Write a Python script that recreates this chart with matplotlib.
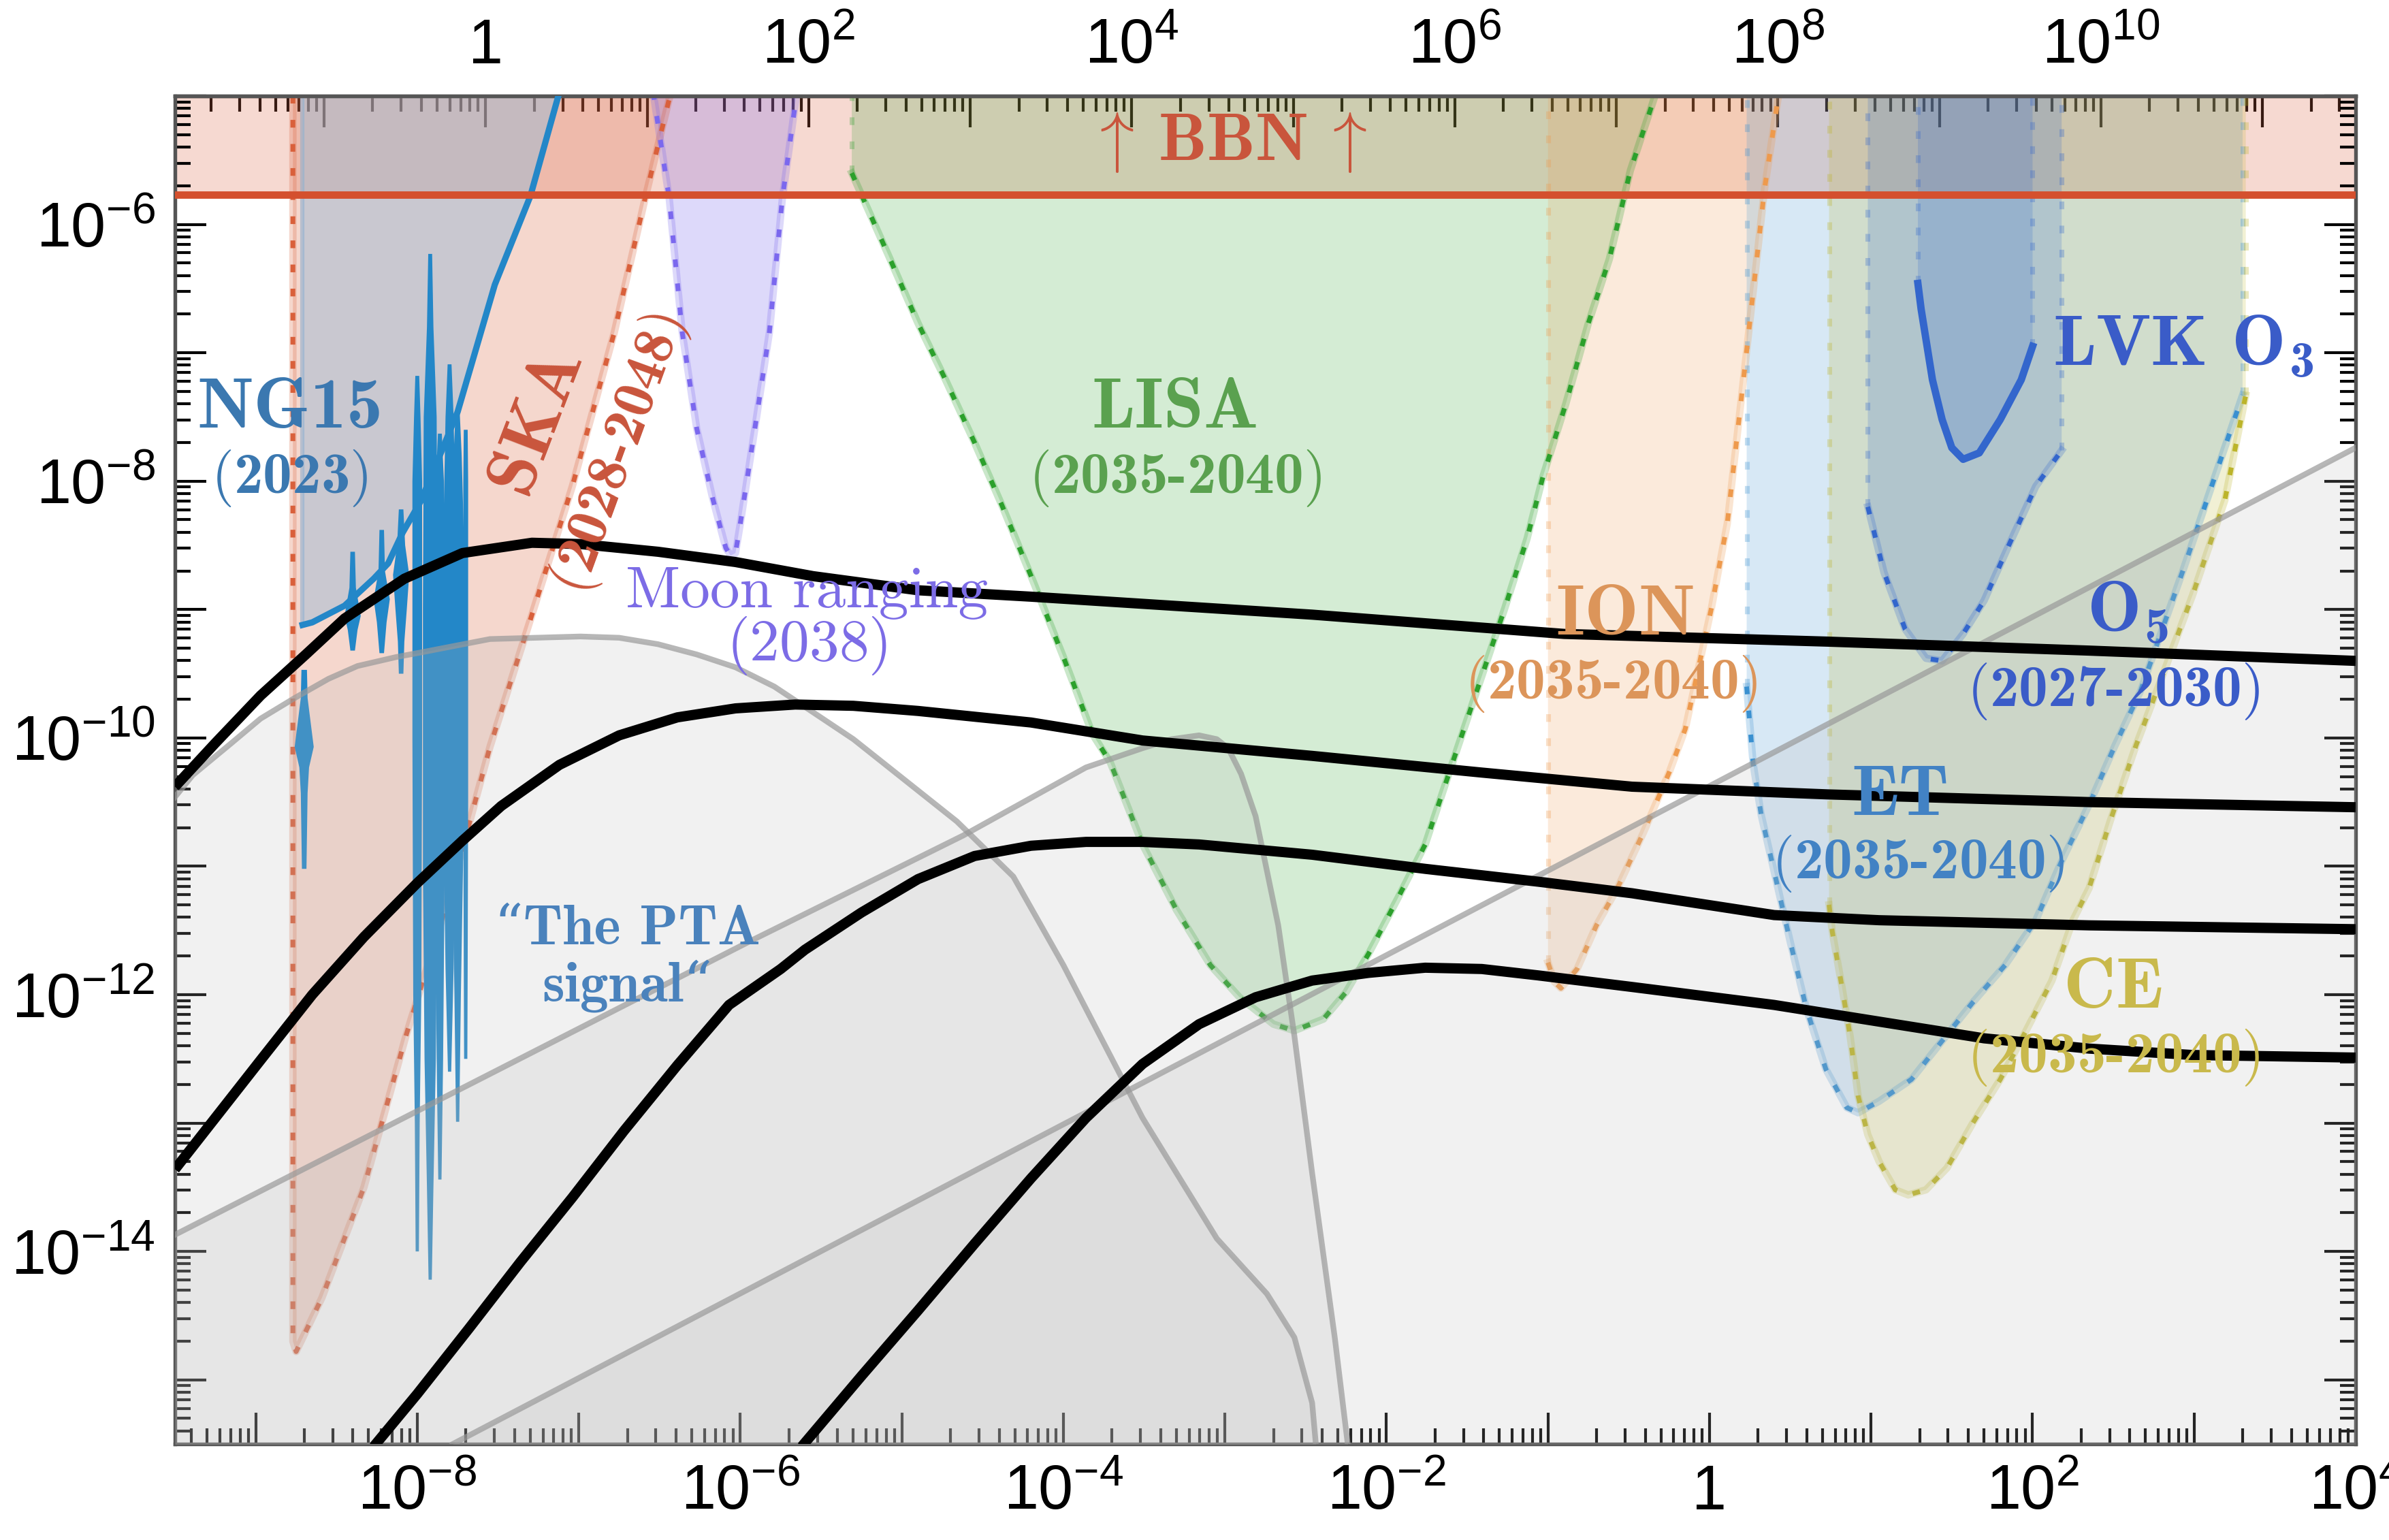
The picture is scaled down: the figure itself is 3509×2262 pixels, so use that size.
import numpy as np
import matplotlib
matplotlib.use('Agg')
import matplotlib.pyplot as plt
from matplotlib.ticker import LogLocator, FuncFormatter, NullFormatter

plt.rcParams['font.family'] = 'Liberation Sans'
plt.rcParams['mathtext.fontset'] = 'custom'
plt.rcParams['mathtext.rm'] = 'cmr10'
plt.rcParams['mathtext.bf'] = 'cmb10'

# all values are log10(f / Hz) and log10(h^2 Omega_GW)
TOP = -4.0           # above the frame, closes the shaded regions
F_PER_GEV = 2.65e-8  # top axis: temperature in GeV
bbn_lh = np.log10(1.7e-6)

# black model spectra
spec1_lf = [-9.5, -9.25, -8.97, -8.69, -8.45, -8.08, -7.72, -7.29, -6.99, -6.51, -6.03, -5.55, -4.90, -4.2, -2.46, -0.9, 0.73, 2.35, 4.0]
spec1_lh = [-10.38, -10.04, -9.67, -9.35, -9.07, -8.76, -8.56, -8.48, -8.49, -8.55, -8.63, -8.74, -8.85, -8.90, -9.04, -9.19, -9.25, -9.32, -9.40]
spec2_lf = [-9.5, -8.97, -8.65, -8.33, -8.0, -7.72, -7.48, -7.12, -6.75, -6.39, -6.03, -5.66, -5.30, -4.90, -4.2, -3.51, -2.46, -1.41, -0.48, 0.73, 2.35, 4.0]
spec2_lh = [-13.36, -12.51, -12.0, -11.55, -11.13, -10.80, -10.53, -10.21, -9.98, -9.84, -9.77, -9.74, -9.75, -9.79, -9.88, -10.02, -10.14, -10.27, -10.38, -10.44, -10.50, -10.54]
spec3_lf = [-8.27, -8.0, -7.68, -7.36, -7.04, -6.72, -6.39, -6.07, -5.75, -5.6, -5.25, -4.9, -4.55, -4.2, -3.86, -3.51, -3.16, -2.46, -1.76, -1.06, -0.48, 0.4, 1.05, 2.35, 4.0]
spec3_lh = [-15.52, -15.11, -14.60, -14.08, -13.58, -13.06, -12.55, -12.08, -11.80, -11.65, -11.36, -11.10, -10.92, -10.84, -10.81, -10.81, -10.83, -10.91, -11.02, -11.12, -11.21, -11.38, -11.42, -11.46, -11.49]
spec4_lf = [-5.62, -5.25, -4.90, -4.55, -4.20, -3.86, -3.51, -3.16, -2.81, -2.46, -2.11, -1.76, -1.41, -1.06, -0.48, 0.4, 1.05, 1.7, 2.35, 2.99, 4.0]
spec4_lh = [-15.52, -14.97, -14.46, -13.94, -13.43, -12.96, -12.54, -12.23, -12.02, -11.89, -11.83, -11.79, -11.80, -11.85, -11.94, -12.08, -12.21, -12.34, -12.42, -12.47, -12.49]

# grey background spectra
hump_lf = [-9.5, -9.39, -9.15, -8.97, -8.76, -8.55, -8.37, -8.13, -7.96, -7.55, -6.99, -6.75, -6.51, -6.27, -6.03, -5.79,
           -5.55, -5.30, -5.06, -4.90, -4.66, -4.31, -4.0, -3.51, -3.05, -2.74, -2.57, -2.46, -2.43]
hump_lh = [-10.46, -10.29, -10.04, -9.85, -9.69, -9.54, -9.44, -9.37, -9.33, -9.23, -9.21, -9.22, -9.27, -9.35, -9.45, -9.60,
           -9.80, -10.01, -10.25, -10.41, -10.65, -11.08, -11.77, -12.96, -13.90, -14.33, -14.67, -15.18, -15.6]
peak_lf = [-9.5, -5.95, -4.62, -3.86, -3.51, -3.33, -3.16, -3.05, -2.98, -2.90, -2.81, -2.67, -2.57, -2.46, -2.32, -2.23]
peak_lh = [-13.87, -11.59, -10.76, -10.23, -10.08, -10.01, -9.98, -10.01, -10.08, -10.28, -10.61, -11.46, -12.32, -13.39, -14.67, -15.6]
line_lf = [-7.78, 4.0]
line_lh = [-15.5, -7.74]

# NANOGrav 15 yr
ng_lf = [-8.71, -8.65, -8.45, -8.27, -8.18, -8.09, -7.98, -7.87, -7.75, -7.52, -7.30, -7.12]
ng_lh = [-9.12, -9.10, -8.97, -8.76, -8.64, -8.40, -8.16, -7.83, -7.46, -6.47, -5.78, -4.97]
viol_lf = [-8.70, -8.40, -8.22, -8.10, -8.00, -7.92, -7.86, -7.80, -7.75, -7.70]
viol_lh = [
    [-9.47, -9.69, -10.07, -10.23, -10.43, -11.02],
    [-8.55, -8.83, -9.05, -9.16, -9.32],
    [-8.38, -8.70, -8.92, -9.10, -9.34],
    [-8.22, -8.50, -8.73, -9.0, -9.25, -9.50],
    [-7.18, -7.5, -8.0, -10.0, -12.0, -13.0, -14.0],
    [-6.23, -6.8, -7.5, -9.0, -11.0, -12.5, -13.5, -14.22],
    [-7.63, -8.0, -9.0, -11.0, -12.5, -13.44],
    [-7.09, -7.5, -8.5, -10.5, -11.8, -12.6],
    [-7.44, -7.8, -8.5, -10.5, -12.0, -12.99],
    [-7.6, -8.0, -9.0, -10.5, -11.8, -12.5],
]
viol_hw = [
    [0.017, 0.021, 0.059, 0.030, 0.021, 0.014],
    [0.014, 0.02, 0.05, 0.03, 0.014],
    [0.014, 0.02, 0.05, 0.03, 0.014],
    [0.014, 0.025, 0.05, 0.035, 0.02, 0.014],
    [0.012, 0.02, 0.03, 0.03, 0.025, 0.015, 0.01],
    [0.012, 0.02, 0.04, 0.045, 0.045, 0.035, 0.02, 0.01],
    [0.012, 0.025, 0.03, 0.03, 0.02, 0.01],
    [0.012, 0.025, 0.04, 0.04, 0.025, 0.01],
    [0.012, 0.025, 0.04, 0.04, 0.02, 0.01],
    [0.012, 0.015, 0.015, 0.015, 0.012, 0.01],
]

# detector sensitivity curves
ska_lf = [-8.77, -8.77, -8.75, -8.59, -8.33, -8.07, -7.78, -7.55, -7.30, -7.04, -6.78, -6.59, -6.43]
ska_lh = [TOP, -14.70, -14.78, -14.36, -13.50, -12.32, -11.14, -10.07, -9.08, -8.04, -6.84, -5.80, -4.97]
moon_lf = [-6.54, -6.44, -6.36, -6.27, -6.17, -6.09, -6.06, -6.03, -6.0, -5.91, -5.82, -5.74, -5.65]
moon_lh = [-4.97, -5.80, -6.84, -7.59, -8.14, -8.52, -8.58, -8.56, -8.33, -7.59, -6.84, -5.80, -4.97]
lisa_lf = [-5.31, -5.08, -4.90, -4.73, -4.55, -4.38, -4.20, -4.0, -3.82, -3.71, -3.51, -3.30, -3.09, -2.91, -2.70, -2.57,
           -2.39, -2.25, -2.11, -1.93, -1.76, -1.59, -1.41, -1.27, -1.13, -1.03, -0.89, -0.75, -0.62, -0.49, -0.33]
lisa_lh = [-5.60, -6.25, -6.77, -7.21, -7.70, -8.19, -8.74, -9.37, -9.97, -10.19, -10.83, -11.34, -11.77, -12.02, -12.23, -12.28,
           -12.19, -11.98, -11.68, -11.25, -10.83, -10.19, -9.52, -9.0, -8.45, -7.96, -7.40, -6.77, -6.27, -5.58, -4.97]
ion_lf = [-1.0, -0.96, -0.92, -0.82, -0.70, -0.57, -0.41, -0.25, -0.15, 0.01, 0.11, 0.21, 0.34, 0.43]
ion_lh = [-11.75, -11.9, -11.95, -11.8, -11.46, -11.17, -10.74, -10.27, -9.93, -9.0, -8.33, -7.21, -5.73, -4.97]
et_lf = [0.23, 0.27, 0.32, 0.40, 0.50, 0.60, 0.72, 0.85, 0.92, 1.05, 1.25, 1.44, 1.63, 1.83, 2.02, 2.18, 2.35, 2.51, 2.67, 2.93, 3.13, 3.30]
et_lh = [-9.6, -10.2, -10.6, -11.04, -11.59, -12.11, -12.58, -12.88, -12.92, -12.83, -12.66, -12.36, -12.06, -11.77, -11.42, -10.96, -10.52, -10.06, -9.63, -8.70, -7.96, -7.33]
ce_lf = [0.74, 0.76, 0.82, 0.87, 0.92, 0.98, 1.05, 1.15, 1.23, 1.34, 1.47, 1.63, 1.80, 1.96, 2.12, 2.25, 2.35, 2.48, 2.64, 2.77, 2.99, 3.19, 3.32]
ce_lh = [-11.3, -11.51, -11.94, -12.32, -12.79, -13.09, -13.30, -13.52, -13.56, -13.52, -13.35, -13.0, -12.66, -12.28, -11.89, -11.42, -11.17, -10.65, -10.06, -9.63, -8.89, -8.15, -7.33]
o5_lf = [0.98, 1.08, 1.21, 1.34, 1.44, 1.57, 1.70, 1.86, 2.02, 2.18]
o5_lh = [-8.20, -8.71, -9.15, -9.38, -9.40, -9.19, -8.93, -8.48, -8.04, -7.76]
o3_lf = [1.29, 1.31, 1.38, 1.44, 1.50, 1.57, 1.67, 1.80, 1.93, 2.0]
o3_lh = [-6.46, -6.66, -7.21, -7.52, -7.74, -7.83, -7.78, -7.52, -7.21, -6.95]

# labels: text, log f, log h2Omega, colour, size, rotation, font
RED = '#c9553c'
NAME, YEAR = 25.5, 20.5
labels = [
    ('NG15', -8.79, -7.44, '#3b78b0', NAME, 0, 'cmb10'),
    ('$($2023$)$', -8.79, -7.98, '#3b78b0', YEAR, 0, 'cmb10'),
    ('SKA', -7.26, -7.52, RED, NAME, 69, 'cmb10'),
    ('$($2028-2048$)$', -6.75, -7.79, RED, YEAR, 70, 'cmb10'),
    ('Moon ranging', -5.59, -8.87, '#7c6ce6', 21, 0, 'cmr10'),
    ('$($2038$)$', -5.59, -9.28, '#7c6ce6', 21, 0, 'cmr10'),
    ('LISA', -3.31, -7.44, '#5aa14f', NAME, 0, 'cmb10'),
    ('$($2035-2040$)$', -3.31, -7.98, '#5aa14f', YEAR, 0, 'cmb10'),
    ('ION', -0.52, -9.05, '#dc955a', NAME, 0, 'cmb10'),
    ('$($2035-2040$)$', -0.61, -9.58, '#dc955a', YEAR, 0, 'cmb10'),
    ('ET', 1.18, -10.46, '#4282c4', NAME, 0, 'cmb10'),
    ('$($2035-2040$)$', 1.29, -10.98, '#4282c4', YEAR, 0, 'cmb10'),
    ('CE', 2.50, -11.96, '#c9b94c', NAME, 0, 'cmb10'),
    ('$($2035-2040$)$', 2.50, -12.49, '#c9b94c', YEAR, 0, 'cmb10'),
    (r'$\mathbf{O_5}$', 2.59, -9.02, '#3a5cc8', NAME, 0, 'cmb10'),
    ('$($2027-2030$)$', 2.50, -9.64, '#3a5cc8', YEAR, 0, 'cmb10'),
    (r'LVK $\mathbf{O_3}$', 2.93, -6.95, '#3a5cc8', NAME, 0, 'cmb10'),
    (r'$\uparrow\,$BBN$\,\uparrow$', -2.99, -5.36, RED, 24, 0, 'cmb10'),
]


def p(a):
    return 10.0 ** np.asarray(a, dtype=float)


fig = plt.figure(figsize=(3509 / 300, 2262 / 300), dpi=300)
ax = fig.add_axes([257 / 3509, 1 - 2121 / 2262, (3460 - 257) / 3509, (2121 - 141) / 2262])
ax.set_xscale('log')
ax.set_yscale('log')
ax.set_xlim(10 ** -9.5, 1e4)
ax.set_ylim(10 ** -15.5, 1e-5)

DOTS = (0, (1.6, 3.4))


def region(lf, lh, color, alpha=0.22, edges=True):
    x, y = p(lf), p(lh)
    ax.fill(np.r_[x[0], x, x[-1]], np.r_[p(TOP), y, p(TOP)], color=color, alpha=alpha, lw=0, zorder=1.5)
    ax.plot(x, y, color=color, alpha=0.25, lw=2.6, zorder=2.4)
    ax.plot(x, y, color=color, lw=1.7, ls=DOTS, zorder=2.5)
    if edges:
        for xe, ye in ((x[0], y[0]), (x[-1], y[-1])):
            ax.plot([xe, xe], [ye, p(TOP)], color=color, alpha=0.3, lw=1.7, ls=DOTS, zorder=2.4)


# BBN
ax.fill_between([10 ** -9.5, 1e4], p(bbn_lh), p(TOP), color='#dc6a48', alpha=0.25, lw=0, zorder=1)
ax.axhline(p(bbn_lh), color='#d4502e', lw=2.6, zorder=4.5)

region(ska_lf, ska_lh, '#d9603b', 0.25, edges=False)
region(moon_lf, moon_lh, '#7b68ee', 0.25)
region(lisa_lf, lisa_lh, '#2ca02c', 0.2)
region(ion_lf, ion_lh, '#ee9a4d', 0.2)
region(et_lf, et_lh, '#3a90d0', 0.2)
region(ce_lf, ce_lh, '#bcb42a', 0.2)
region(o5_lf, o5_lh, '#3366cc', 0.2)
# O3 region, bounded by the solid O3 curve
x3, y3 = p(o3_lf), p(o3_lh)
ax.fill(np.r_[x3[0], x3, x3[-1]], np.r_[p(TOP), y3, p(TOP)], color='#3366cc', alpha=0.2, lw=0, zorder=1.6)
for xe, ye in ((x3[0], y3[0]), (x3[-1], y3[-1])):
    ax.plot([xe, xe], [ye, p(TOP)], color='#3366cc', alpha=0.3, lw=1.7, ls=DOTS, zorder=2.4)
ax.plot(x3, y3, color='#3366cc', lw=2.6, zorder=4.2)

# NANOGrav region, sensitivity line and free-spectrum violins
xn, yn = p(ng_lf), p(ng_lh)
ax.fill(np.r_[xn[0], xn, xn[-1]], np.r_[p(TOP), yn, p(TOP)], color='#9ebbd3', alpha=0.5, lw=0, zorder=2)
ax.plot([xn[0], xn[0]], [yn[0], p(TOP)], color='#8fb0d0', alpha=0.6, lw=1.5, zorder=2.1)
for c, lv, hw in zip(viol_lf, viol_lh, viol_hw):
    lv, hw = np.asarray(lv), np.asarray(hw)
    vx = np.r_[p(c + hw), p(c - hw)[::-1]]
    vy = np.r_[p(lv), p(lv)[::-1]]
    ax.fill(vx, vy, color='#2387c8', lw=0, zorder=3)
ax.plot(xn, yn, color='#2387c8', lw=2.2, zorder=4.2)

# grey background spectra
for lf, lh in ((hump_lf, hump_lh), (peak_lf, peak_lh), (line_lf, line_lh)):
    ax.fill_between(p(lf), 1e-17, p(lh), color='#bababa', alpha=0.2, lw=0, zorder=3.5)
    ax.plot(p(lf), p(lh), color='#999999', alpha=0.7, lw=2.0, zorder=3.6)

for lf, lh in ((spec1_lf, spec1_lh), (spec2_lf, spec2_lh), (spec3_lf, spec3_lh), (spec4_lf, spec4_lh)):
    ax.plot(p(lf), p(lh), color='black', lw=3.6, solid_capstyle='butt', solid_joinstyle='round', zorder=5)

for txt, lx, ly, col, fs, rot, fam in labels:
    ax.text(p(lx), p(ly), txt, color=col, fontsize=fs, family=fam, rotation=rot,
            rotation_mode='anchor', ha='center', va='center', zorder=6)
ax.text(p(-6.70), p(-11.72), '\u201cThe PTA\nsignal\u201c', color='#4a82bc', fontsize=20,
        family=['cmb10', 'DejaVu Serif'], ha='center', va='center', linespacing=1.1, zorder=6)


def log_fmt(v, pos):
    e = int(round(np.log10(v)))
    if e % 2:
        return ''
    if e == 0:
        return '1'
    return r'$\mathdefault{10^{%d}}$' % e


for axis in (ax.xaxis, ax.yaxis):
    axis.set_major_locator(LogLocator(base=10, numticks=40))
    axis.set_minor_locator(LogLocator(base=10, subs=np.arange(2, 10), numticks=40))
    axis.set_major_formatter(FuncFormatter(log_fmt))
    axis.set_minor_formatter(NullFormatter())
ax.tick_params(which='both', direction='in', top=False, right=True, labelsize=22, width=1.0, pad=7)
ax.tick_params(which='major', length=11)
ax.tick_params(which='minor', length=5.5)

sec = ax.secondary_xaxis('top', functions=(lambda f: f / F_PER_GEV, lambda t: t * F_PER_GEV))
sec.xaxis.set_major_locator(LogLocator(base=10, numticks=40))
sec.xaxis.set_minor_locator(LogLocator(base=10, subs=np.arange(2, 10), numticks=40))
sec.xaxis.set_major_formatter(FuncFormatter(log_fmt))
sec.xaxis.set_minor_formatter(NullFormatter())
sec.tick_params(which='both', direction='in', labelsize=22, width=1.0, pad=7)
sec.tick_params(which='major', length=11)
sec.tick_params(which='minor', length=5.5)

for s in list(ax.spines.values()) + list(sec.spines.values()):
    s.set_color('#555555')
    s.set_linewidth(1.3)

fig.savefig('out.png', dpi=300)
